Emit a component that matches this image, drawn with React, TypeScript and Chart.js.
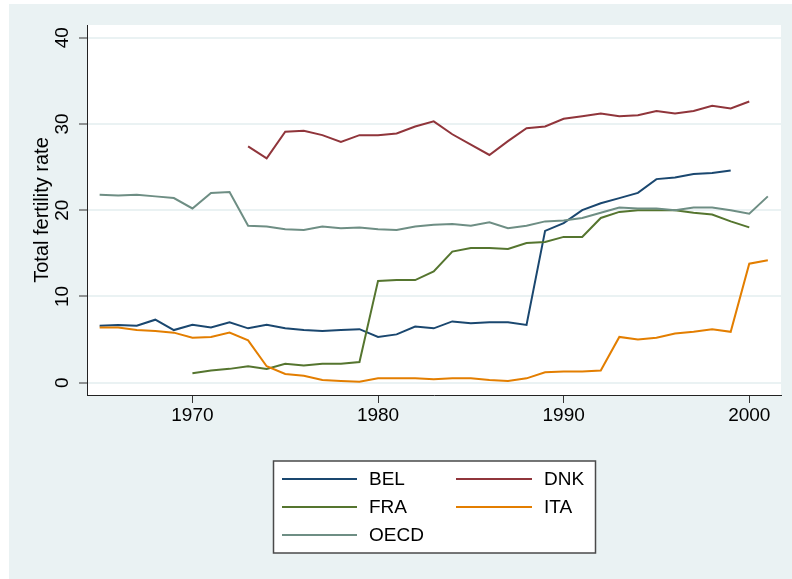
import React, { useEffect, useRef } from "react";
import { Chart, registerables } from "chart.js";

Chart.register(...registerables);

const years = [
  1965, 1966, 1967, 1968, 1969, 1970, 1971, 1972, 1973, 1974,
  1975, 1976, 1977, 1978, 1979, 1980, 1981, 1982, 1983, 1984,
  1985, 1986, 1987, 1988, 1989, 1990, 1991, 1992, 1993, 1994,
  1995, 1996, 1997, 1998, 1999, 2000, 2001,
];

const BEL = [
  6.6, 6.7, 6.6, 7.3, 6.1, 6.7, 6.4, 7.0, 6.3, 6.7,
  6.3, 6.1, 6.0, 6.1, 6.2, 5.3, 5.6, 6.5, 6.3, 7.1,
  6.9, 7.0, 7.0, 6.7, 17.6, 18.5, 20.0, 20.8, 21.4, 22.0,
  23.6, 23.8, 24.2, 24.3, 24.6, null, null,
];

const DNK = [
  null, null, null, null, null, null, null, null, 27.4, 26.0,
  29.1, 29.2, 28.7, 27.9, 28.7, 28.7, 28.9, 29.7, 30.3, 28.8,
  27.6, 26.4, 28.0, 29.5, 29.7, 30.6, 30.9, 31.2, 30.9, 31.0,
  31.5, 31.2, 31.5, 32.1, 31.8, 32.6, null,
];

const FRA = [
  null, null, null, null, null, 1.1, 1.4, 1.6, 1.9, 1.6,
  2.2, 2.0, 2.2, 2.2, 2.4, 11.8, 11.9, 11.9, 12.9, 15.2,
  15.6, 15.6, 15.5, 16.2, 16.3, 16.9, 16.9, 19.1, 19.8, 20.0,
  20.0, 20.0, 19.7, 19.5, 18.7, 18.0, null,
];

const ITA = [
  6.4, 6.4, 6.1, 6.0, 5.8, 5.2, 5.3, 5.8, 4.9, 1.9,
  1.0, 0.8, 0.3, 0.2, 0.1, 0.5, 0.5, 0.5, 0.4, 0.5,
  0.5, 0.3, 0.2, 0.5, 1.2, 1.3, 1.3, 1.4, 5.3, 5.0,
  5.2, 5.7, 5.9, 6.2, 5.9, 13.8, 14.2,
];

const OECD = [
  21.8, 21.7, 21.8, 21.6, 21.4, 20.2, 22.0, 22.1, 18.2, 18.1,
  17.8, 17.7, 18.1, 17.9, 18.0, 17.8, 17.7, 18.1, 18.3, 18.4,
  18.2, 18.6, 17.9, 18.2, 18.7, 18.8, 19.1, 19.7, 20.3, 20.2,
  20.2, 20.0, 20.3, 20.3, 20.0, 19.6, 21.6,
];

const seriesNames = ["BEL", "DNK", "FRA", "ITA", "OECD"];
const seriesValues = [BEL, DNK, FRA, ITA, OECD];
const seriesColors = ["#1a476f", "#90353b", "#55752f", "#e37e00", "#6e8e84"];

const xTicks = [1970, 1980, 1990, 2000];
const yTicks = [0, 10, 20, 30, 40];
const yTitle = "Total fertility rate";

const FONT = "'Liberation Sans', Arial, sans-serif";

const bgPlugin = {
  id: "stataBackground",
  beforeDraw(chart: any) {
    const { ctx, chartArea } = chart;
    ctx.save();
    ctx.fillStyle = "#EAF2F3";
    ctx.fillRect(9, 4, chart.width - 9, chart.height - 4);
    ctx.fillStyle = "#ffffff";
    ctx.fillRect(
      chartArea.left,
      chartArea.top,
      chartArea.right - chartArea.left,
      chartArea.bottom - chartArea.top
    );
    ctx.restore();
  },
};

const legendPlugin = {
  id: "stataLegend",
  afterDraw(chart: any) {
    const { ctx } = chart;
    const box = { x: 273.5, y: 461, w: 322, h: 92 };
    ctx.save();
    ctx.fillStyle = "#ffffff";
    ctx.fillRect(box.x, box.y, box.w, box.h);
    ctx.strokeStyle = "#4a4a4a";
    ctx.lineWidth = 1.5;
    ctx.strokeRect(box.x, box.y, box.w, box.h);
    const cols = [
      { lx: 282, lw: 75, tx: 369 },
      { lx: 456, lw: 76, tx: 544 },
    ];
    const rows = [479, 507, 535];
    ctx.font = `19px ${FONT}`;
    ctx.textBaseline = "middle";
    ctx.textAlign = "left";
    chart.data.datasets.forEach((ds: any, i: number) => {
      const c = cols[i % 2];
      const r = rows[Math.floor(i / 2)];
      ctx.strokeStyle = ds.borderColor;
      ctx.lineWidth = 2;
      ctx.beginPath();
      ctx.moveTo(c.lx, r);
      ctx.lineTo(c.lx + c.lw, r);
      ctx.stroke();
      ctx.fillStyle = "#000000";
      ctx.fillText(ds.label, c.tx, r + 1);
    });
    ctx.restore();
  },
};

export default function App() {
  const ref = useRef<HTMLCanvasElement | null>(null);

  useEffect(() => {
    if (!ref.current) return;
    const datasets = seriesNames.map((name, i) => ({
      label: name,
      data: years.map((yr, j) => ({ x: yr, y: seriesValues[i][j] })),
      borderColor: seriesColors[i],
      backgroundColor: seriesColors[i],
      borderWidth: 2,
      pointRadius: 0,
      tension: 0,
      spanGaps: false,
      order: seriesNames.length - i,
    }));

    const chart = new Chart(ref.current, {
      type: "line",
      data: { datasets },
      options: {
        animation: false,
        responsive: false,
        devicePixelRatio: 1,
        parsing: true,
        layout: { padding: { left: 0, top: 25, right: 11, bottom: 144 } },
        plugins: {
          legend: { display: false },
          tooltip: { enabled: false },
        },
        scales: {
          x: {
            type: "linear",
            min: 1964.32,
            max: 2001.71,
            afterBuildTicks: (scale: any) => {
              scale.ticks = xTicks.map((v) => ({ value: v }));
            },
            afterFit: (scale: any) => {
              scale.height = 40;
            },
            grid: {
              display: true,
              drawOnChartArea: false,
              drawTicks: true,
              tickLength: 8,
              tickColor: "#333333",
              tickWidth: 1,
            },
            border: { display: true, color: "#222222", width: 1 },
            ticks: {
              color: "#000000",
              font: { family: FONT, size: 19 },
              padding: 1,
              maxRotation: 0,
              minRotation: 0,
              callback: (v: any) => String(v),
            },
          },
          y: {
            type: "linear",
            min: -1.43,
            max: 41.47,
            afterBuildTicks: (scale: any) => {
              scale.ticks = yTicks.map((v) => ({ value: v }));
            },
            afterFit: (scale: any) => {
              scale.width = 87;
            },
            grid: {
              display: true,
              drawOnChartArea: true,
              color: "#EAF2F3",
              lineWidth: 2,
              drawTicks: true,
              tickLength: 8,
              tickColor: "#333333",
              tickWidth: 1,
            },
            border: { display: true, color: "#222222", width: 1 },
            ticks: {
              color: "#000000",
              font: { family: FONT, size: 19 },
              padding: 5.4,
              minRotation: 90,
              maxRotation: 90,
              crossAlign: "center",
              callback: (v: any) => String(v),
            },
            title: {
              display: true,
              text: yTitle,
              color: "#000000",
              font: { family: FONT, size: 20 },
              padding: { top: 30, bottom: 0 },
            },
          },
        },
      },
      plugins: [bgPlugin, legendPlugin],
    } as any);

    return () => chart.destroy();
  }, []);

  return (
    <div style={{ position: "absolute", left: 0, top: 0, width: 792, height: 579 }}>
      <canvas ref={ref} width={792} height={579} style={{ width: 792, height: 579, display: "block" }} />
    </div>
  );
}
